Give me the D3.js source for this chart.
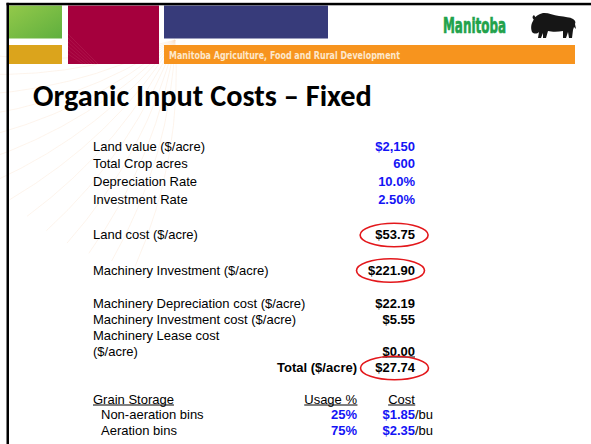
<!DOCTYPE html>
<html><head><meta charset="utf-8">
<script src="https://cdn.jsdelivr.net/npm/d3@7"></script>
<style>html,body{margin:0;padding:0;background:#fff;}svg{display:block;}</style>
</head><body>
<script>
// ---- data ----
const titleText = "Organic Input Costs \u2013 Fixed";
const headerText = "Manitoba Agriculture, Food and Rural Development";
const logoText = "Manitoba";
const inputLabels = ["Land value ($/acre)", "Total Crop acres", "Depreciation Rate", "Investment Rate"];
const inputValues = ["$2,150", "600", "10.0%", "2.50%"];
const costLabels = ["Land cost ($/acre)", "Machinery Investment ($/acre)"];
const costValues = ["$53.75", "$221.90"];
const machLabels = ["Machinery Depreciation cost ($/acre)", "Machinery Investment cost ($/acre)", "Machinery Lease cost", "($/acre)"];
const machValues = ["$22.19", "$5.55", "", "$0.00"];
const totalLabel = "Total ($/acre)";
const totalValue = "$27.74";
const storageHeaders = ["Grain Storage", "Usage %", "Cost"];
const storageBins = ["Non-aeration bins", "Aeration bins"];
const storageUsage = ["25%", "75%"];
const storageCost = ["$1.85", "$2.35"];
const costUnit = "/bu";

// ---- layout ----
const W = 591, H = 444;
const svg = d3.select("body").append("svg").attr("width", W).attr("height", H);
const FONT = "Arial, 'Liberation Sans', sans-serif";
const BLUE = "#1414f5", RED = "#e3171b";

// faint decorative arcs
const deco = svg.append("g").attr("fill", "none").attr("stroke", "#f9dcc0").attr("stroke-opacity", 0.3).attr("stroke-width", 1);
d3.range(14).forEach(i => {
  const a = (100 + i * 6) * Math.PI / 180;
  const cx = 175, cy = 40, L = 230;
  const ex = cx + Math.cos(a) * L, ey = cy + Math.sin(a) * L;
  const mx = cx + Math.cos(a - 0.25) * L * 0.5, my = cy + Math.sin(a - 0.25) * L * 0.5;
  deco.append("path").attr("d", `M${cx},${cy} Q${mx},${my} ${ex},${ey}`);
});

// header blocks
const defs = svg.append("defs");
const gg = defs.append("linearGradient").attr("id", "gr").attr("x1", 0).attr("y1", 0).attr("x2", 1).attr("y2", 1);
gg.append("stop").attr("offset", 0).attr("stop-color", "#93c94a");
gg.append("stop").attr("offset", 1).attr("stop-color", "#5faf3e");
svg.append("rect").attr("x", 9).attr("y", 5.5).attr("width", 53).attr("height", 33).attr("fill", "url(#gr)");
svg.append("rect").attr("x", 9).attr("y", 45).attr("width", 53).attr("height", 19).attr("fill", "#dba41c");
svg.append("rect").attr("x", 68).attr("y", 5.5).attr("width", 91).attr("height", 58.5).attr("fill", "#a5003d");
// faint lines on crimson block
const cl = svg.append("g").attr("stroke", "#c84a70").attr("stroke-opacity", 0.3).attr("stroke-width", 0.8);
d3.range(6).forEach(i => {
  cl.append("line").attr("x1", 68).attr("y1", 34 + i * 4).attr("x2", 68 + 30 - i * 3).attr("y2", 64);
});
svg.append("rect").attr("x", 164).attr("y", 5.5).attr("width", 164).attr("height", 33).attr("fill", "#373b7a");
svg.append("rect").attr("x", 164).attr("y", 45).attr("width", 411).attr("height", 19).attr("fill", "#f7941e");
svg.append("text").attr("x", 169).attr("y", 58.5).attr("fill", "#fde8cc")
  .attr("font-family", "'Liberation Sans Narrow','DejaVu Sans Condensed',sans-serif").attr("font-weight", "bold")
  .attr("font-size", 10).attr("textLength", 231).attr("lengthAdjust", "spacingAndGlyphs").text(headerText);

// frame lines
svg.append("rect").attr("x", 6.5).attr("y", 2.8).attr("width", W - 6.5).attr("height", 2.5).attr("fill", "#000");
svg.append("rect").attr("x", 6.5).attr("y", 2.8).attr("width", 2.5).attr("height", H).attr("fill", "#000");

// Manitoba logo
svg.append("text").attr("x", 443).attr("y", 33).attr("fill", "#22a24b")
  .attr("stroke", "#22a24b").attr("stroke-width", 0.7)
  .attr("font-family", "'DejaVu Sans', sans-serif").attr("font-weight", "bold").attr("font-size", 21)
  .attr("textLength", 63).attr("lengthAdjust", "spacingAndGlyphs").text(logoText);
svg.append("path").attr("transform", "translate(531,13)").attr("fill", "#161616")
  .attr("d", "M2,8 C4,3 8,1 12,0 C17,-0.5 22,2 28,3 C34,4 39,4 42,6 C44,7 45,9 44,11 L45,16 L43,14 L42,17 L41,25 L38,25 L37,19 L35,25 L32,25 L32,18 C27,19 21,19 17,18 L15,25 L12,25 L12,20 L10,25 L7,25 L8,19 C6,21 3,21 1,19 C0,16 -0.5,12 2,8 Z M3,7 C1,5 1,3 3,2 L5,5 Z");

// title
const title = svg.append("text").attr("x", 33).attr("y", 106).attr("fill", "#000")
  .attr("font-family", "Carlito, Lato, 'Open Sans', sans-serif").attr("font-weight", "bold")
  .attr("font-size", 32).text(titleText);
const tw = title.node().getComputedTextLength();
title.attr("font-size", 32 * 339 / tw);

// table
const LX = 93, VX = 415, MX = 357;
const inputY = [151, 168, 186, 204];
const costY = [239, 274.5];
const machY = [308, 324, 339.5, 355.5];
const totalY = 372;
const storHeadY = 403.5;
const storY = [419, 434.5];

function label(x, y, t, opts = {}) {
  return svg.append("text").attr("x", x).attr("y", y).attr("font-family", FONT).attr("font-size", 13)
    .attr("font-weight", opts.bold ? "bold" : "normal").attr("fill", opts.fill || "#000")
    .attr("text-anchor", opts.anchor || "start").text(t);
}
function underline(node, dy) {
  const b = node.node().getBBox();
  svg.append("line").attr("x1", b.x).attr("x2", b.x + b.width).attr("y1", dy).attr("y2", dy)
    .attr("stroke", "#000").attr("stroke-width", 1);
}
function circle(node) {
  const b = node.node().getBBox();
  svg.append("ellipse").attr("cx", b.x + b.width / 2 - 1).attr("cy", b.y + b.height / 2 + 0.5)
    .attr("rx", 34).attr("ry", 11.8).attr("fill", "none").attr("stroke", RED).attr("stroke-width", 1.6);
}

inputLabels.forEach((t, i) => label(LX, inputY[i], t));
inputValues.forEach((t, i) => label(VX, inputY[i], t, { bold: true, fill: BLUE, anchor: "end" }));

costLabels.forEach((t, i) => label(LX, costY[i], t));
costValues.forEach((t, i) => circle(label(VX, costY[i], t, { bold: true, anchor: "end" })));

machLabels.forEach((t, i) => label(LX, machY[i], t));
machValues.forEach((t, i) => {
  if (!t) return;
  const n = label(VX, machY[i], t, { bold: true, anchor: "end" });
  if (i === machValues.length - 1) underline(n, machY[i] + 1.5);
});

label(MX, totalY, totalLabel, { bold: true, anchor: "end" });
circle(label(VX, totalY, totalValue, { bold: true, anchor: "end" }));

underline(label(LX, storHeadY, storageHeaders[0]), storHeadY + 1.5);
underline(label(MX, storHeadY, storageHeaders[1], { anchor: "end" }), storHeadY + 1.5);
underline(label(401.5, storHeadY, storageHeaders[2], { anchor: "middle" }), storHeadY + 1.5);

storageBins.forEach((t, i) => {
  label(LX + 8, storY[i], t);
  label(MX, storY[i], storageUsage[i], { bold: true, fill: BLUE, anchor: "end" });
  label(VX, storY[i], storageCost[i], { bold: true, fill: BLUE, anchor: "end" });
  label(VX, storY[i], costUnit);
});
</script>
</body></html>
